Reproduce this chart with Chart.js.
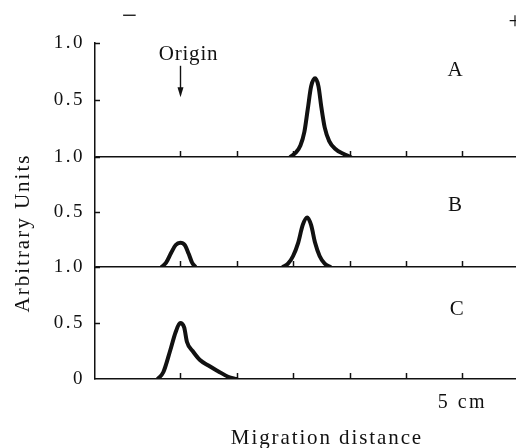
<!DOCTYPE html>
<html>
<head>
<meta charset="utf-8">
<script src="https://cdn.jsdelivr.net/npm/chart.js@4/dist/chart.umd.min.js"></script>
<style>
  html, body { margin: 0; padding: 0; background: #fff; }
</style>
</head>
<body>
<canvas id="chart" width="516" height="448"></canvas>
<script>
// migration distance (cm from origin) and intensity for each run
const xA = [1.95, 2.05, 2.13, 2.2, 2.26, 2.32, 2.39, 2.45, 2.5, 2.56, 2.64, 2.75, 2.88, 3.02];
const yA = [0, 0.04, 0.1, 0.22, 0.42, 0.62, 0.69, 0.62, 0.44, 0.26, 0.14, 0.07, 0.03, 0];

const xB1 = [-0.33, -0.25, -0.16, -0.08, 0, 0.08, 0.15, 0.21, 0.27];
const yB1 = [0, 0.04, 0.13, 0.2, 0.22, 0.2, 0.12, 0.04, 0];
const xB2 = [1.82, 1.91, 2.0, 2.09, 2.17, 2.25, 2.32, 2.39, 2.47, 2.56, 2.66];
const yB2 = [0, 0.03, 0.1, 0.22, 0.38, 0.45, 0.38, 0.22, 0.1, 0.03, 0];

const xC = [-0.4, -0.3, -0.18, -0.08, 0, 0.07, 0.12, 0.22, 0.35, 0.5, 0.67, 0.85, 1.0];
const yC = [0, 0.06, 0.25, 0.42, 0.5, 0.46, 0.33, 0.25, 0.17, 0.12, 0.07, 0.02, 0];

const xTicks = [0, 1, 2, 3, 4, 5];
const yTicks = [0, 0.5, 1];
const panelNames = ['A', 'B', 'C'];

const ink = '#111';
const serif = "'Liberation Serif', 'DejaVu Serif', serif";
Chart.defaults.font.family = serif;
Chart.defaults.font.size = 19;
Chart.defaults.color = ink;

function pts(xs, ys) {
    return xs.map((x, i) => ({x: x, y: ys[i]}));
}

function trace(data, axis) {
    return {
        data: data,
        yAxisID: axis,
        borderColor: ink,
        borderWidth: 4,
        borderCapStyle: 'round',
        borderJoinStyle: 'round',
        cubicInterpolationMode: 'monotone',
        pointRadius: 0,
        fill: false
    };
}

function panelScale(name, weight) {
    return {
        type: 'linear',
        position: 'left',
        stack: 'panels',
        stackWeight: weight,
        min: 0,
        max: 1,
        afterBuildTicks: s => { s.ticks = yTicks.map(v => ({value: v})); },
        afterFit: s => { s.width = 95; },
        ticks: {
            padding: 10,
            font: { size: 19 },
            callback: v => v === 0 ? (name === 'C' ? '0' : '') : v.toFixed(1)
        },
        grid: {
            drawTicks: false,
            lineWidth: 1.5,
            color: c => (c.tick && c.tick.value === 0 && name !== 'C') ? ink : 'rgba(0,0,0,0)'
        },
        border: { display: true, color: ink, width: 1.5 }
    };
}

function text(ctx, str, x, y, size, spacing) {
    ctx.font = size + 'px ' + serif;
    ctx.letterSpacing = spacing + 'px';
    ctx.fillText(str, x, y);
}

const extras = {
    id: 'extras',
    beforeDraw(chart) {
        chart.ctx.letterSpacing = '2.5px';
    },
    afterDraw(chart) {
        const {ctx, chartArea, scales} = chart;
        const x = scales.x;
        ctx.save();
        ctx.strokeStyle = ink;
        ctx.fillStyle = ink;
        ctx.lineWidth = 1.5;
        // tick marks point into each panel
        panelNames.forEach(n => {
            const s = scales['y' + n];
            const base = s.getPixelForValue(0);
            xTicks.forEach(v => {
                const px = Math.round(x.getPixelForValue(v)) + 0.5;
                ctx.beginPath();
                ctx.moveTo(px, base);
                ctx.lineTo(px, base - 6);
                ctx.stroke();
            });
            yTicks.filter(v => v > 0).forEach(v => {
                const py = Math.round(s.getPixelForValue(v)) + 0.5;
                ctx.beginPath();
                ctx.moveTo(chartArea.left, py);
                ctx.lineTo(chartArea.left + 5, py);
                ctx.stroke();
            });
        });

        ctx.textBaseline = 'middle';
        ctx.textAlign = 'center';

        // panel letters
        const letterPos = {A: [4.87, 0.76], B: [4.87, 0.56], C: [4.9, 0.62]};
        panelNames.forEach(n => {
            const p = letterPos[n];
            text(ctx, n, x.getPixelForValue(p[0]), scales['y' + n].getPixelForValue(p[1]), 21, 0);
        });

        // origin marker
        const ox = Math.round(x.getPixelForValue(0)) + 0.5;
        const yA0 = scales.yA;
        text(ctx, 'Origin', ox + 8, yA0.getPixelForValue(0.9), 21, 0.8);
        const top = yA0.getPixelForValue(0.8);
        const tip = yA0.getPixelForValue(0.525);
        ctx.lineWidth = 1.4;
        ctx.beginPath();
        ctx.moveTo(ox, top);
        ctx.lineTo(ox, tip - 6);
        ctx.stroke();
        ctx.beginPath();
        ctx.moveTo(ox - 3, tip - 10);
        ctx.lineTo(ox + 3, tip - 10);
        ctx.lineTo(ox, tip);
        ctx.closePath();
        ctx.fill();

        // x title, centred a little right of the plot centre as in the print
        text(ctx, 'Migration distance', x.getPixelForValue(2.6), chart.height - 10, 21, 1.9);

        // y title
        ctx.save();
        ctx.translate(23, (chartArea.top + chartArea.bottom) / 2 + 22);
        ctx.rotate(-Math.PI / 2);
        text(ctx, 'Arbitrary Units', 0, 0, 21, 2);
        ctx.restore();

        // electrode signs
        text(ctx, '\u2212', x.getPixelForValue(-0.9), chartArea.top - 26, 27, 0);
        text(ctx, '+', x.getPixelForValue(5.93), chartArea.top - 21, 23, 0);
        ctx.restore();
    }
};

new Chart(document.getElementById('chart'), {
    type: 'line',
    data: {
        datasets: [
            trace(pts(xA, yA), 'yA'),
            trace(pts(xB1, yB1), 'yB'),
            trace(pts(xB2, yB2), 'yB'),
            trace(pts(xC, yC), 'yC')
        ]
    },
    options: {
        responsive: false,
        animation: false,
        layout: { padding: { top: 43, right: 0, bottom: 0, left: 0 } },
        plugins: { legend: { display: false }, tooltip: { enabled: false } },
        scales: {
            x: {
                type: 'linear',
                min: -1.51,
                max: 5.95,
                afterBuildTicks: s => { s.ticks = xTicks.map(v => ({value: v})); },
                afterFit: s => { s.height = 69; },
                ticks: {
                    padding: 12,
                    maxRotation: 0,
                    font: { size: 20 },
                    callback: v => v === 5 ? '5 cm' : ''
                },
                grid: { display: true, drawOnChartArea: false, drawTicks: false },
                border: { display: true, color: ink, width: 1.5 }
            },
            // stacked left axes are laid out bottom-up, so C comes first
            yC: panelScale('C', 112),
            yB: panelScale('B', 110),
            yA: panelScale('A', 114)
        }
    },
    plugins: [extras]
});
</script>
</body>
</html>
